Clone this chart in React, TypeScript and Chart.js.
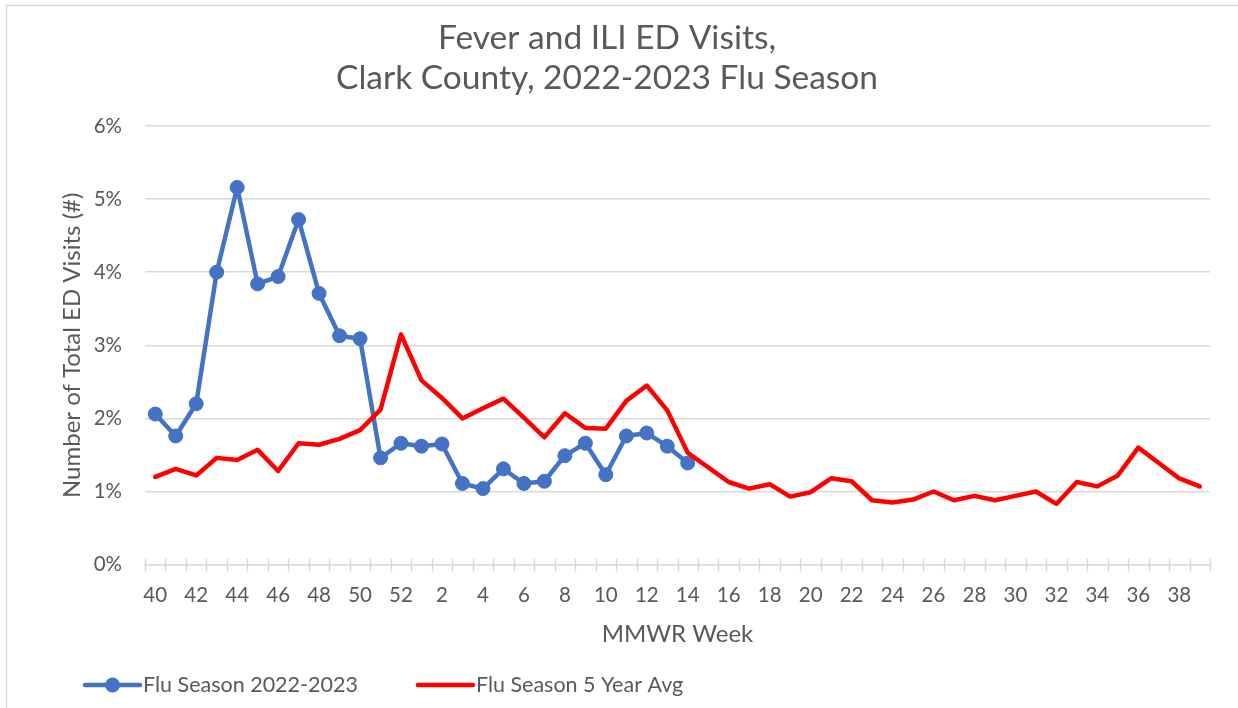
import React, { useEffect, useRef } from "react";
import { Chart, registerables } from "chart.js";
Chart.register(...registerables);

const weeks: string[] = [
  "40", "41", "42", "43", "44", "45", "46", "47", "48", "49", "50", "51", "52",
  "1", "2", "3", "4", "5", "6", "7", "8", "9", "10", "11", "12", "13", "14", "15",
  "16", "17", "18", "19", "20", "21", "22", "23", "24", "25", "26", "27", "28", "29",
  "30", "31", "32", "33", "34", "35", "36", "37", "38", "39",
];

const season2022: (number | null)[] = [
  2.06, 1.76, 2.2, 4.0, 5.16, 3.84, 3.94, 4.72, 3.71, 3.13, 3.09, 1.46, 1.66,
  1.62, 1.65, 1.11, 1.04, 1.31, 1.11, 1.14, 1.49, 1.66, 1.23, 1.76, 1.8, 1.62, 1.39,
];

const fiveYearAvg: number[] = [
  1.2, 1.31, 1.22, 1.46, 1.43, 1.57, 1.28, 1.66, 1.64, 1.72, 1.84, 2.12, 3.15,
  2.52, 2.28, 2.0, 2.14, 2.27, 2.01, 1.74, 2.07, 1.87, 1.86, 2.24, 2.45, 2.11, 1.53, 1.33,
  1.13, 1.04, 1.1, 0.93, 0.99, 1.18, 1.14, 0.88, 0.85, 0.89, 1.0, 0.88, 0.94, 0.88,
  0.94, 1.0, 0.83, 1.13, 1.07, 1.22, 1.6, 1.39, 1.18, 1.07,
];

const seriesNames = ["Flu Season 2022-2023", "Flu Season 5 Year Avg"];
const titleLines = ["Fever and ILI ED Visits,", "Clark County, 2022-2023 Flu Season"];

const FONT = "Lato, 'Open Sans', sans-serif";
const TEXT = "#595959";
const GRID = "#d9d9d9";
const BLUE = "#4472C4";
const RED = "#FF0000";

const framePlugin = {
  id: "frame",
  beforeDraw(chart: any) {
    const { ctx, width, height } = chart;
    ctx.save();
    ctx.fillStyle = "#ffffff";
    ctx.fillRect(0, 0, width, height);
    ctx.strokeStyle = GRID;
    ctx.lineWidth = 1.5;
    ctx.strokeRect(6.5, 5.5, width + 20, height + 20);
    // title
    ctx.fillStyle = TEXT;
    ctx.font = `33.5px ${FONT}`;
    ctx.textAlign = "center";
    ctx.textBaseline = "middle";
    ctx.fillText(titleLines[0], 607, 38);
    ctx.fillText(titleLines[1], 607, 78);
    ctx.restore();
  },
};

const crossTicksPlugin = {
  id: "crossTicks",
  beforeDatasetsDraw(chart: any) {
    const x = chart.scales.x;
    const n = chart.data.labels.length;
    const bottom = chart.chartArea.bottom;
    const ctx = chart.ctx;
    ctx.save();
    ctx.strokeStyle = GRID;
    ctx.lineWidth = 1.5;
    for (let i = 0; i <= n; i++) {
      const px = Math.round(x.left + ((x.right - x.left) * i) / n) + 0.5;
      ctx.beginPath();
      ctx.moveTo(px, bottom - 6);
      ctx.lineTo(px, bottom + 7);
      ctx.stroke();
    }
    ctx.restore();
  },
};

const legendPlugin = {
  id: "customLegend",
  afterDraw(chart: any) {
    const ctx = chart.ctx;
    const y = 685;
    let x = 85;
    const order = [0, 1];
    ctx.save();
    ctx.font = `21.5px ${FONT}`;
    ctx.textBaseline = "middle";
    ctx.textAlign = "left";
    order.forEach((idx) => {
      const ds = chart.data.datasets[idx];
      ctx.strokeStyle = ds.borderColor;
      ctx.lineWidth = 4.5;
      ctx.lineCap = "round";
      ctx.beginPath();
      ctx.moveTo(x, y);
      ctx.lineTo(x + 55, y);
      ctx.stroke();
      if (ds.pointRadius > 0) {
        ctx.fillStyle = ds.borderColor;
        ctx.beginPath();
        ctx.arc(x + 27.5, y, 7.5, 0, Math.PI * 2);
        ctx.fill();
      }
      ctx.fillStyle = TEXT;
      ctx.fillText(ds.label, x + 58, y);
      const w = ctx.measureText(ds.label).width;
      x += 58 + w + 60;
    });
    ctx.restore();
  },
};

export default function App() {
  const ref = useRef<HTMLCanvasElement | null>(null);

  useEffect(() => {
    document.body.style.margin = "0";
    if (!ref.current) return;
    const chart = new Chart(ref.current, {
      type: "line",
      data: {
        labels: weeks,
        datasets: [
          {
            label: seriesNames[0],
            data: season2022,
            borderColor: BLUE,
            backgroundColor: BLUE,
            borderWidth: 4.5,
            pointRadius: 7,
            pointBackgroundColor: BLUE,
            pointBorderColor: BLUE,
            pointBorderWidth: 1,
            borderJoinStyle: "round",
            tension: 0,
            order: 1,
          },
          {
            label: seriesNames[1],
            data: fiveYearAvg,
            borderColor: RED,
            backgroundColor: RED,
            borderWidth: 4.5,
            pointRadius: 0,
            borderJoinStyle: "round",
            borderCapStyle: "round",
            tension: 0,
            order: 0,
          },
        ],
      },
      options: {
        responsive: false,
        animation: false,
        events: [],
        layout: { padding: { left: 58, right: 28, top: 126, bottom: 59 } },
        plugins: {
          legend: { display: false },
          tooltip: { enabled: false },
          title: { display: false },
        },
        scales: {
          x: {
            offset: true,
            grid: { display: false },
            border: { color: GRID, width: 1.5 },
            ticks: {
              color: TEXT,
              font: { family: FONT, size: 20.5 },
              autoSkip: false,
              maxRotation: 0,
              padding: 10,
              callback: (_v: any, i: number) => (i % 2 === 0 ? weeks[i] : ""),
            },
            title: {
              display: true,
              text: "MMWR Week",
              color: TEXT,
              font: { family: FONT, size: 24 },
              padding: { top: 3, bottom: 0 },
            },
          },
          y: {
            min: 0,
            max: 6,
            grid: { color: GRID, lineWidth: 1.5, drawTicks: false },
            border: { display: false },
            afterFit: (scale: any) => {
              scale.width = 87;
            },
            ticks: {
              stepSize: 1,
              color: TEXT,
              font: { family: FONT, size: 20.5 },
              padding: 23,
              callback: (v: any) => `${v}%`,
            },
            title: {
              display: true,
              text: "Number of Total ED Visits (#)",
              color: TEXT,
              font: { family: FONT, size: 24 },
              padding: { top: 0, bottom: 8 },
            },
          },
        },
      },
      plugins: [framePlugin, crossTicksPlugin, legendPlugin],
    } as any);
    return () => chart.destroy();
  }, []);

  return (
    <div style={{ width: 1238, height: 708, position: "relative", overflow: "hidden", background: "#fff" }}>
      <canvas ref={ref} width={1238} height={708} style={{ display: "block" }} />
    </div>
  );
}
